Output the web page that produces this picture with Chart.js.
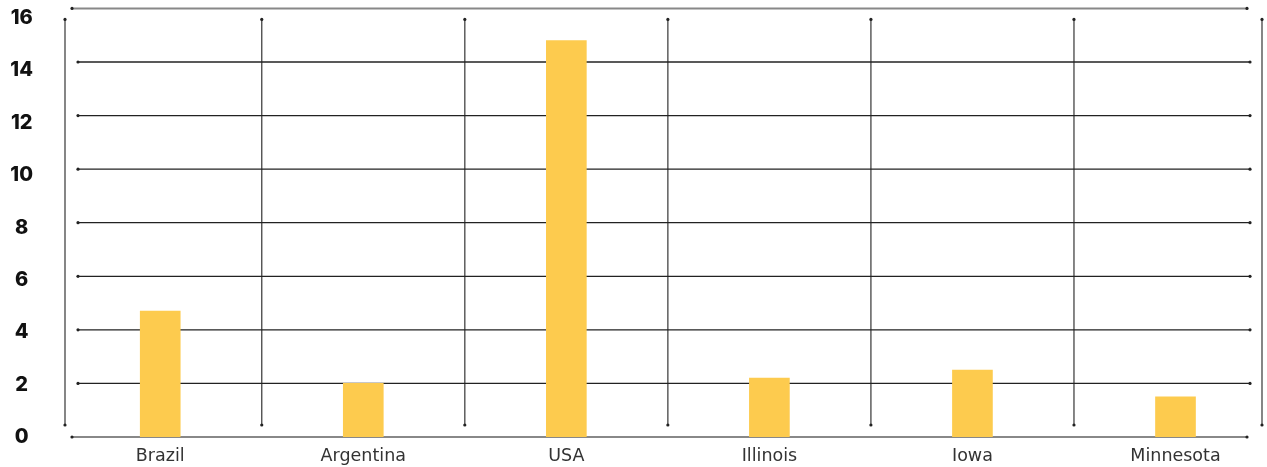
<!DOCTYPE html>
<html>
<head>
<meta charset="utf-8">
<script src="https://cdn.jsdelivr.net/npm/chart.js@4"></script>
<style>
  html, body { margin: 0; padding: 0; background: #fff; }
  #wrap { width: 1267px; height: 467px; }
</style>
</head>
<body>
<div id="wrap"><canvas id="myCanvas"></canvas></div>
<script>
// data
const categories = ["Brazil", "Argentina", "USA", "Illinois", "Iowa", "Minnesota"];
const values = [4.7, 2.0, 14.8, 2.2, 2.5, 1.5];
const yTicks = [0, 2, 4, 6, 8, 10, 12, 14, 16];

// grid with little dots at the line ends
const dottedGrid = {
  id: "dottedGrid",
  beforeDatasetsDraw(chart) {
    const { ctx, chartArea: a, scales } = chart;
    const y = scales.y, x = scales.x;
    const dot = (px, py) => {
      ctx.beginPath();
      ctx.arc(px, py, 1.6, 0, Math.PI * 2);
      ctx.fill();
    };
    ctx.save();
    // vertical lines: chart edges plus between categories
    const xs = [a.left];
    for (let i = 0; i < categories.length - 1; i++) xs.push(x.getPixelForValue(i + 0.5));
    xs.push(a.right);
    ctx.strokeStyle = "#444";
    ctx.fillStyle = "#222";
    ctx.lineWidth = 1.3;
    xs.forEach(px => {
      const top = a.top + 11, bot = a.bottom - 12;
      ctx.beginPath();
      ctx.moveTo(px, top);
      ctx.lineTo(px, bot);
      ctx.stroke();
      dot(px, top);
      dot(px, bot);
    });
    // horizontal lines
    yTicks.forEach((v, i) => {
      const py = y.getPixelForValue(v);
      const edge = i === 0 || i === yTicks.length - 1;
      const l = a.left + (edge ? 7 : 13);
      const r = a.right - (edge ? 15 : 12);
      ctx.strokeStyle = edge ? "#888" : "#222";
      ctx.lineWidth = edge ? 2 : 1.3;
      ctx.beginPath();
      ctx.moveTo(l, py);
      ctx.lineTo(r, py);
      ctx.stroke();
      ctx.fillStyle = "#222";
      dot(l, py);
      dot(r, py);
    });
    ctx.restore();
  }
};

const ctx = document.getElementById("myCanvas").getContext("2d");
new Chart(ctx, {
  type: "bar",
  data: {
    datasets: [{
      label: "Value",
      data: categories.map((c, i) => ({ x: i, y: values[i] })),
      backgroundColor: "#fdcb4e",
      barThickness: 40,
      yAxisID: "y"
    }]
  },
  options: {
    responsive: true,
    maintainAspectRatio: false,
    animation: false,
    layout: { padding: { top: 8.4, right: 5, left: 0, bottom: 0 } },
    plugins: { legend: { display: false }, tooltip: { enabled: false } },
    scales: {
      x: {
        type: "linear",
        min: -0.469,
        max: 5.426,
        offset: false,
        grid: { display: false, drawTicks: false, offset: false },
        border: { display: false },
        afterBuildTicks: s => { s.ticks = categories.map((c, i) => ({ value: i })); },
        afterFit: s => { s.height = 30; s.paddingLeft = 0; s.paddingRight = 0; },
        ticks: {
          autoSkip: false,
          maxRotation: 0,
          padding: 9,
          color: "#333",
          font: { family: "DejaVu Sans", size: 17.5, weight: "400" },
          callback: v => categories[v]
        }
      },
      y: {
        display: false,
        min: 0,
        max: 16
      },
      yLabels: {
        position: "left",
        min: 0,
        max: 16.37,
        grid: { display: false, drawTicks: false },
        border: { display: false },
        afterBuildTicks: s => { s.ticks = yTicks.map(v => ({ value: v })); },
        afterFit: s => { s.width = 65; s.paddingTop = 0; s.paddingBottom = 0; },
        ticks: {
          crossAlign: "center",
          padding: 32,
          color: "#111",
          font: { family: "Inter", size: 20, weight: "800" },
          callback: v => String(v)
        }
      }
    }
  },
  plugins: [dottedGrid]
});
</script>
</body>
</html>
